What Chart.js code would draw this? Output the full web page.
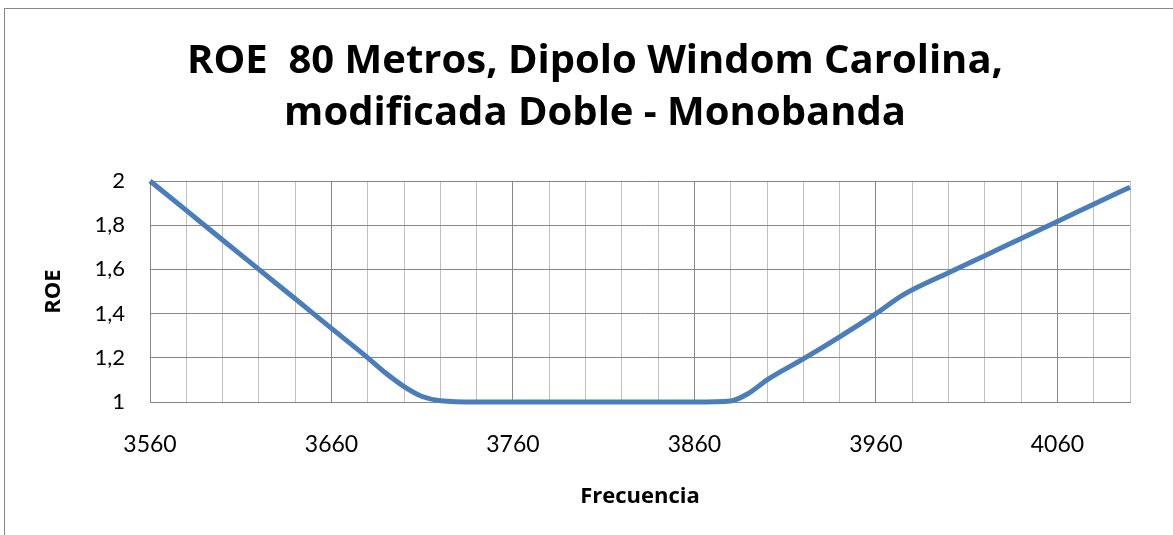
<!DOCTYPE html>
<html>
<head>
<meta charset="utf-8">
<script src="https://cdn.jsdelivr.net/npm/chart.js@4.4.1/dist/chart.umd.min.js"></script>
<style>
  html, body { margin: 0; padding: 0; background: #fff; overflow: hidden; }
  body { width: 1173px; height: 535px; position: relative; }
  #frame { position: absolute; left: 4px; top: 8px; width: 1180px; height: 600px; border: 1px solid #878787; }
  #roeChart { position: absolute; left: 0; top: 0; }
</style>
</head>
<body>
<div id="frame"></div>
<canvas id="roeChart" width="1190" height="535"></canvas>
<script>
// valores (kHz / ROE)
const frequencies = [3560, 3580, 3600, 3620, 3640, 3660, 3680, 3690, 3700, 3710, 3720, 3740, 3760, 3780, 3800,
  3820, 3840, 3860, 3880, 3890, 3900, 3920, 3940, 3960, 3975, 4000, 4020, 4040, 4060, 4080, 4100]
const roeValues = [2.0, 1.867, 1.733, 1.6, 1.467, 1.333, 1.2, 1.13, 1.07, 1.025, 1.006, 1.0, 1.0, 1.0, 1.0,
  1.0, 1.0, 1.0, 1.005, 1.04, 1.1, 1.195, 1.295, 1.4, 1.485, 1.585, 1.662, 1.74, 1.817, 1.895, 1.972]

const xTickLabels = [3560, 3660, 3760, 3860, 3960, 4060]
const yTickValues = [1, 1.2, 1.4, 1.6, 1.8, 2]
const yTickLabels = ['1', '1,2', '1,4', '1,6', '1,8', '2']

const darkGrid = '#878787'
const lightGrid = '#c0c0c0'
const boldFont = 'Open Sans'

Chart.defaults.font.family = 'Lato'
Chart.defaults.color = '#000'

const points = frequencies.map((f, i) => ({ x: f, y: roeValues[i] }))

const ctx = document.getElementById('roeChart')

new Chart(ctx, {
    type: 'line',
    data: {
        datasets: [{
            data: points,
            borderColor: '#4a7ebb',
            borderWidth: 5,
            pointRadius: 0,
            cubicInterpolationMode: 'monotone',
            clip: false
        }]
    },
    options: {
        responsive: false,
        devicePixelRatio: 1,
        animation: false,
        layout: { padding: 0 },
        plugins: {
            legend: { display: false },
            tooltip: { enabled: false },
            title: {
                display: true,
                text: ['ROE  80 Metros, Dipolo Windom Carolina,', 'modificada Doble - Monobanda'],
                font: { family: boldFont, size: 40, weight: 'bold', lineHeight: '52px' },
                color: '#000',
                padding: { top: 36, bottom: 41 }
            }
        },
        scales: {
            x: {
                type: 'linear',
                min: 3560,
                max: 4100,
                afterFit: (scale) => {
                    scale.height = 133
                    scale.paddingRight = 60
                },
                ticks: {
                    stepSize: 20,
                    autoSkip: false,
                    maxRotation: 0,
                    padding: 29,
                    font: { size: 23 },
                    callback: (v) => xTickLabels.includes(v) ? String(v) : ''
                },
                grid: {
                    drawTicks: false,
                    color: (c) => (c.tick && xTickLabels.includes(c.tick.value)) ? darkGrid : lightGrid
                },
                border: { color: darkGrid, width: 1 },
                title: {
                    display: true,
                    text: 'Frecuencia',
                    font: { family: boldFont, size: 22, weight: 'bold' },
                    padding: { top: 0, bottom: 25 }
                }
            },
            y: {
                min: 1,
                max: 2,
                afterFit: (scale) => {
                    scale.width = 150
                },
                ticks: {
                    stepSize: 0.2,
                    padding: 25,
                    font: { size: 22 },
                    callback: (v) => {
                        const i = yTickValues.findIndex(t => Math.abs(t - v) < 1e-6)
                        return i >= 0 ? yTickLabels[i] : ''
                    }
                },
                grid: { drawTicks: false, color: darkGrid },
                border: { color: darkGrid, width: 1 },
                title: {
                    display: true,
                    text: 'ROE',
                    font: { family: boldFont, size: 22, weight: 'bold' },
                    padding: { top: 41, bottom: 0 }
                }
            }
        }
    }
})
</script>
</body>
</html>
